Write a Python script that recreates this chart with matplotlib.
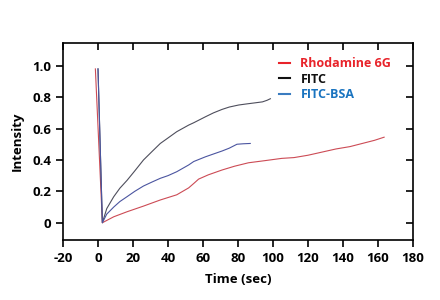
import matplotlib.pyplot as plt
from matplotlib.lines import Line2D

plt.rcParams.update({'font.family': ['Open Sans', 'DejaVu Sans'], 'font.weight': 'bold',
                     'font.size': 9, 'axes.unicode_minus': False})

# Rhodamine 6G
t_rho = [-1.5, 2.5, 9, 16.6, 26, 35.6, 45, 51.8, 54.7, 57.5, 63, 70.9, 78, 86, 95, 105,
         112, 120, 128, 136, 144, 151, 158, 163.5]
i_rho = [0.98, 0.0, 0.038, 0.07, 0.106, 0.145, 0.178, 0.222, 0.25, 0.278, 0.305, 0.336,
         0.36, 0.382, 0.395, 0.41, 0.415, 0.43, 0.45, 0.47, 0.485, 0.505, 0.525, 0.545]
# FITC
t_fitc = [0, 2.5, 5, 9, 12.5, 16.6, 21, 26, 31, 35.6, 40, 45, 51.8, 54.7, 61.4, 66, 70.9,
          75, 80.4, 85, 89.9, 94, 96.6, 98.5]
i_fitc = [0.98, 0.0, 0.09, 0.166, 0.22, 0.27, 0.33, 0.40, 0.455, 0.505, 0.54, 0.58, 0.622,
          0.637, 0.675, 0.70, 0.722, 0.737, 0.75, 0.757, 0.764, 0.77, 0.78, 0.79]
# FITC-BSA
t_bsa = [0, 2.5, 5, 9, 12.5, 16.6, 21, 26, 31, 35.6, 40, 45, 51.8, 54.7, 61.4, 66, 70.9,
         75, 79.4, 83, 87]
i_bsa = [0.98, 0.0, 0.055, 0.10, 0.135, 0.166, 0.20, 0.234, 0.26, 0.283, 0.30, 0.325,
         0.368, 0.39, 0.42, 0.438, 0.457, 0.475, 0.50, 0.503, 0.505]

fig = plt.figure(figsize=(4.4, 3.0), dpi=100)
ax = fig.add_axes([63 / 440, 60 / 300, 350 / 440, 197 / 300])

ax.plot(t_rho, i_rho, color='#cc4b55', lw=0.8)
ax.plot(t_fitc, i_fitc, color='#4e4e5c', lw=0.8)
ax.plot(t_bsa, i_bsa, color='#4b55a0', lw=0.8)

ax.set_xlim(-20, 180)
ax.set_ylim(-0.11, 1.145)
ax.set_xticks(range(-20, 181, 20))
ax.set_yticks([0, 0.2, 0.4, 0.6, 0.8, 1.0])
ax.set_yticklabels(['0', '0.2', '0.4', '0.6', '0.8', '1.0'])
ax.tick_params(direction='out', length=5, width=1.2, labelsize=9.5)
ax.tick_params(top=True, right=True)
for t in ax.xaxis.get_major_ticks():
    t.tick2line.set_marker(3)  # inward at top
for t in ax.yaxis.get_major_ticks():
    t.tick2line.set_marker(0)  # inward at right
for s in ax.spines.values():
    s.set_linewidth(1.2)

ax.set_xlabel('Time (sec)', fontsize=9.5, fontweight='bold', labelpad=6)
ax.set_ylabel('Intensity', fontsize=9.5, fontweight='bold', labelpad=6)

handles = [Line2D([], [], color=c, lw=1.5) for c in ['#e8232a', '#111111', '#3a7cc0']]
leg = ax.legend(handles, ['Rhodamine 6G', 'FITC', 'FITC-BSA'], loc='upper right',
                bbox_to_anchor=(0.97, 0.985), frameon=False, handlelength=0.9,
                handletextpad=0.8, labelspacing=0.2, fontsize=9)
for txt, c in zip(leg.get_texts(), ['#e8232a', '#111111', '#1a74c0']):
    txt.set_color(c)

plt.savefig('out.png')
